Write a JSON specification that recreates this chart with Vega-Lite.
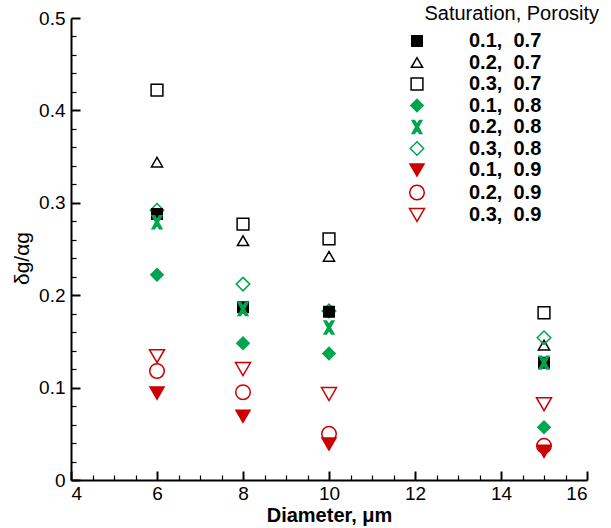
{
  "$schema": "https://vega.github.io/schema/vega-lite/v6.json",
  "width": 516,
  "height": 462,
  "autosize": {"type": "none"},
  "padding": {"left": 71, "top": 18, "right": 24, "bottom": 48},
  "background": "white",
  "title": {"text": "Saturation, Porosity", "anchor": "end", "frame": "bounds", "dx": 11, "dy": 35, "font": "Liberation Sans", "fontSize": 20, "fontWeight": "normal", "color": "black", "offset": 0, "baseline": "bottom"},
  "config": {
    "view": {"stroke": null},
    "font": "Liberation Sans",
    "axis": {"grid": false, "domainColor": "black", "domainWidth": 2, "tickColor": "black", "tickWidth": 2, "labelColor": "black", "labelFont": "Liberation Sans", "labelFontSize": 19, "titleColor": "black", "titleFont": "Liberation Sans"},
    "legend": {"labelFont": "Liberation Sans", "labelFontSize": 20, "labelFontWeight": "bold", "labelColor": "black"}
  },
  "data": {"values": [
    {"d": 6, "v": 0.422, "s": "0.3,\u00a0 0.7"},
    {"d": 8, "v": 0.277, "s": "0.3,\u00a0 0.7"},
    {"d": 10, "v": 0.261, "s": "0.3,\u00a0 0.7"},
    {"d": 15, "v": 0.181, "s": "0.3,\u00a0 0.7"},
    {"d": 6, "v": 0.344, "s": "0.2,\u00a0 0.7"},
    {"d": 8, "v": 0.259, "s": "0.2,\u00a0 0.7"},
    {"d": 10, "v": 0.242, "s": "0.2,\u00a0 0.7"},
    {"d": 15, "v": 0.146, "s": "0.2,\u00a0 0.7"},
    {"d": 6, "v": 0.292, "s": "0.3,\u00a0 0.8"},
    {"d": 8, "v": 0.212, "s": "0.3,\u00a0 0.8"},
    {"d": 10, "v": 0.183, "s": "0.3,\u00a0 0.8"},
    {"d": 15, "v": 0.154, "s": "0.3,\u00a0 0.8"},
    {"d": 6, "v": 0.134, "s": "0.3,\u00a0 0.9"},
    {"d": 8, "v": 0.120, "s": "0.3,\u00a0 0.9"},
    {"d": 10, "v": 0.093, "s": "0.3,\u00a0 0.9"},
    {"d": 15, "v": 0.082, "s": "0.3,\u00a0 0.9"},
    {"d": 6, "v": 0.118, "s": "0.2,\u00a0 0.9"},
    {"d": 8, "v": 0.095, "s": "0.2,\u00a0 0.9"},
    {"d": 10, "v": 0.050, "s": "0.2,\u00a0 0.9"},
    {"d": 15, "v": 0.037, "s": "0.2,\u00a0 0.9"},
    {"d": 6, "v": 0.288, "s": "0.1,\u00a0 0.7"},
    {"d": 8, "v": 0.187, "s": "0.1,\u00a0 0.7"},
    {"d": 10, "v": 0.182, "s": "0.1,\u00a0 0.7"},
    {"d": 15, "v": 0.127, "s": "0.1,\u00a0 0.7"},
    {"d": 6, "v": 0.279, "s": "0.2,\u00a0 0.8"},
    {"d": 8, "v": 0.185, "s": "0.2,\u00a0 0.8"},
    {"d": 10, "v": 0.165, "s": "0.2,\u00a0 0.8"},
    {"d": 15, "v": 0.127, "s": "0.2,\u00a0 0.8"},
    {"d": 6, "v": 0.222, "s": "0.1,\u00a0 0.8"},
    {"d": 8, "v": 0.148, "s": "0.1,\u00a0 0.8"},
    {"d": 10, "v": 0.137, "s": "0.1,\u00a0 0.8"},
    {"d": 15, "v": 0.057, "s": "0.1,\u00a0 0.8"},
    {"d": 6, "v": 0.094, "s": "0.1,\u00a0 0.9"},
    {"d": 8, "v": 0.069, "s": "0.1,\u00a0 0.9"},
    {"d": 10, "v": 0.039, "s": "0.1,\u00a0 0.9"},
    {"d": 15, "v": 0.031, "s": "0.1,\u00a0 0.9"}
  ]},
  "resolve": {"axis": {"x": "independent", "y": "independent"}},
  "layer": [
    {
      "mark": {"type": "point", "opacity": 0},
      "encoding": {
        "x": {"field": "d", "type": "quantitative", "scale": {"domain": [4, 16], "nice": false, "zero": false},
              "axis": {"orient": "bottom", "values": [4.5,5,5.5,6.5,7,7.5,8.5,9,9.5,10.5,11,11.5,12.5,13,13.5,14.5,15,15.5], "labels": false, "domain": false, "tickSize": -5, "tickWidth": 1.2, "title": null}},
        "y": {"field": "v", "type": "quantitative", "scale": {"domain": [0, 0.5], "nice": false},
              "axis": {"orient": "left", "values": [0.02,0.04,0.06,0.08,0.12,0.14,0.16,0.18,0.22,0.24,0.26,0.28,0.32,0.34,0.36,0.38,0.42,0.44,0.46,0.48], "labels": false, "domain": false, "tickSize": -5, "tickWidth": 1.2, "title": null}}
      }
    },
    {
      "mark": {"type": "point", "filled": true, "strokeWidth": 1.5, "opacity": 1},
      "encoding": {
        "x": {"field": "d", "type": "quantitative", "scale": {"domain": [4, 16], "nice": false, "zero": false},
              "axis": {"orient": "bottom", "values": [4,6,8,10,12,14,16], "tickSize": -9, "labelPadding": 13, "title": "Diameter, μm", "titleFontSize": 20, "titleFontWeight": "bold", "titlePadding": 2}},
        "y": {"field": "v", "type": "quantitative", "scale": {"domain": [0, 0.5], "nice": false},
              "axis": {"orient": "left", "values": [0,0.1,0.2,0.3,0.4,0.5], "format": "~g", "tickSize": -9, "labelPadding": 15, "title": "δg/αg", "titleFontSize": 21, "titleFontWeight": "normal", "titlePadding": 6, "titleY": 240}},
        "shape": {"field": "s", "type": "nominal", "title": null,
          "scale": {"domain": ["0.1,\u00a0 0.7","0.2,\u00a0 0.7","0.3,\u00a0 0.7","0.1,\u00a0 0.8","0.2,\u00a0 0.8","0.3,\u00a0 0.8","0.1,\u00a0 0.9","0.2,\u00a0 0.9","0.3,\u00a0 0.9"],
                    "range": ["square","triangle-up","square","diamond","M-0.75,-1L-0.38,-1L0,-0.4L0.38,-1L0.75,-1L0.2,0L0.75,1L0.38,1L0,0.4L-0.38,1L-0.75,1L-0.2,0Z","diamond","triangle-down","circle","triangle-down"]},
          "legend": {"orient": "none", "legendX": 336, "legendY": 13, "labelOffset": 42, "rowPadding": 1.5, "padding": 0, "symbolStrokeWidth": 1.5}},
        "fill": {"field": "s", "type": "nominal", "title": null,
          "scale": {"domain": ["0.1,\u00a0 0.7","0.2,\u00a0 0.7","0.3,\u00a0 0.7","0.1,\u00a0 0.8","0.2,\u00a0 0.8","0.3,\u00a0 0.8","0.1,\u00a0 0.9","0.2,\u00a0 0.9","0.3,\u00a0 0.9"],
                    "range": ["black","transparent","transparent","#00a64f","#00a64f","transparent","#cc0000","transparent","transparent"]}},
        "stroke": {"field": "s", "type": "nominal", "title": null,
          "scale": {"domain": ["0.1,\u00a0 0.7","0.2,\u00a0 0.7","0.3,\u00a0 0.7","0.1,\u00a0 0.8","0.2,\u00a0 0.8","0.3,\u00a0 0.8","0.1,\u00a0 0.9","0.2,\u00a0 0.9","0.3,\u00a0 0.9"],
                    "range": ["black","black","black","#00a64f","#00a64f","#00a64f","#cc0000","#cc0000","#cc0000"]}},
        "size": {"field": "s", "type": "nominal", "title": null,
          "scale": {"domain": ["0.1,\u00a0 0.7","0.2,\u00a0 0.7","0.3,\u00a0 0.7","0.1,\u00a0 0.8","0.2,\u00a0 0.8","0.3,\u00a0 0.8","0.1,\u00a0 0.9","0.2,\u00a0 0.9","0.3,\u00a0 0.9"],
                    "range": [110, 225, 121, 289, 150, 289, 169, 361, 225]}}
      }
    }
  ]
}
